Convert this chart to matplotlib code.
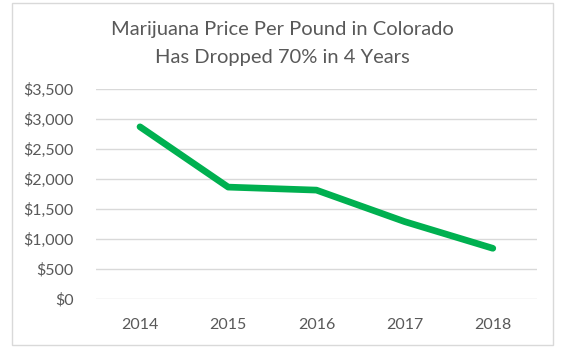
import matplotlib
matplotlib.use('Agg')
import matplotlib.pyplot as plt
from matplotlib.patches import Rectangle
from matplotlib.ticker import FuncFormatter

# data
years = ['2014', '2015', '2016', '2017', '2018']
price = [2870, 1865, 1815, 1290, 845]
yticks = [0, 500, 1000, 1500, 2000, 2500, 3000, 3500]

plt.rcParams['font.family'] = ['Lato', 'DejaVu Sans']
grey = '#595959'

fig = plt.figure(figsize=(5.64, 3.47), dpi=100)
ax = fig.add_axes([0.170, 0.1383, 0.782, 0.6052])

# outer chart border
fig.patches.append(Rectangle((12 / 564, 1 - 345 / 347), 541 / 564, 342 / 347,
                             transform=fig.transFigure, fill=False,
                             edgecolor='#d9d9d9', linewidth=1))

ax.plot(range(len(years)), price, color='#00b050', linewidth=4.8,
        solid_capstyle='round', solid_joinstyle='round', zorder=3)

ax.set_xlim(-0.5, len(years) - 0.5)
ax.set_ylim(0, 3500)
ax.set_yticks(yticks)
ax.yaxis.set_major_formatter(FuncFormatter(lambda v, p: '${:,.0f}'.format(v)))
ax.set_xticks(range(len(years)))
ax.set_xticklabels(years)
ax.grid(axis='y', color='#d9d9d9', linewidth=1)
ax.set_axisbelow(True)
for s in ax.spines.values():
    s.set_visible(False)
ax.tick_params(axis='both', length=0, colors=grey, labelsize=11.5)
ax.tick_params(axis='y', pad=16)
ax.tick_params(axis='x', pad=14)

fig.text(0.5, 1 - 30 / 347, 'Marijuana Price Per Pound in Colorado',
         ha='center', va='center', fontsize=14.5, color=grey)
fig.text(0.5, 1 - 57 / 347, 'Has Dropped 70% in 4 Years',
         ha='center', va='center', fontsize=14.5, color=grey)

plt.savefig('out.png', dpi=100)
plt.close()
